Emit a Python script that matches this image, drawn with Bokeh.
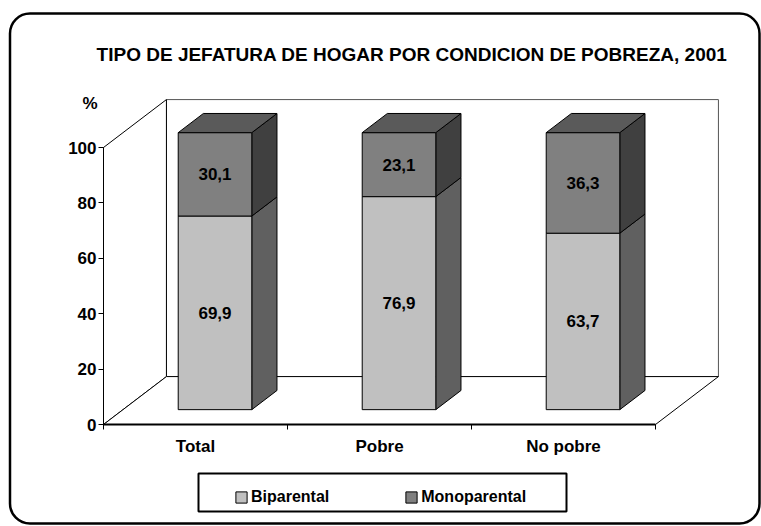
from bokeh.plotting import figure
from bokeh.models import Range1d, LinearAxis, FixedTicker, Legend, LegendItem, BoxAnnotation
from bokeh.core.properties import value
from bokeh.embed import file_html
from bokeh.resources import INLINE

# --- data -------------------------------------------------------------
categories = ["Total", "Pobre", "No pobre"]
biparental = [69.9, 76.9, 63.7]
monoparental = [30.1, 23.1, 36.3]
y_ticks = [0, 20, 40, 60, 80, 100]
title_text = "TIPO DE JEFATURA DE HOGAR POR CONDICION DE POBREZA, 2001"

# --- 3D box geometry (data units: x = category slots, y = percent) ----
DX, DY = 0.342, 17.3          # full depth of the floor / side walls
F0, F1 = 0.31, 0.71           # front / back depth fraction of each bar
BAR_W = 0.40
bdx, bdy = (F1 - F0) * DX, (F1 - F0) * DY
fdx, fdy = F0 * DX, F0 * DY

FONT = "'Liberation Sans', Arial, sans-serif"

# canvas maps 103px -> x=0, 184px per category; 424px -> y=0, 2.77px per percent
p = figure(width=761, height=526, output_backend="svg", toolbar_location=None,
           x_axis_type=None, y_axis_type=None,
           x_range=Range1d(-103 / 184, 658 / 184),
           y_range=Range1d(-102 / 2.77, 424 / 2.77),
           min_border=0)
p.outline_line_color = None
p.background_fill_color = "white"
p.border_fill_color = "white"

n = len(categories)

# walls and floor
p.quad(left=[DX], right=[n + DX], bottom=[DY], top=[100 + DY],
       fill_color="white", line_color="#555555", line_width=1)
p.patch([0, DX, DX, 0], [0, DY, 100 + DY, 100],
        fill_color="white", line_color="black", line_width=1)
p.patch([0, n, n + DX, DX], [0, 0, DY, DY],
        fill_color="white", line_color="black", line_width=1)

# stacked bars
series = [
    ("Biparental", biparental, "#C0C0C0", "#606060"),
    ("Monoparental", monoparental, "#808080", "#404040"),
]
base = [0.0] * n
front_renderers = []
for si, (name, vals, front_c, side_c) in enumerate(series):
    lefts, rights, bottoms, tops = [], [], [], []
    side_xs, side_ys = [], []
    for i, v in enumerate(vals):
        c = i + 0.5
        L = c - BAR_W / 2 + fdx
        R = c + BAR_W / 2 + fdx
        b = base[i] + fdy
        t = base[i] + v + fdy
        lefts.append(L); rights.append(R); bottoms.append(b); tops.append(t)
        side_xs.append([R, R + bdx, R + bdx, R])
        side_ys.append([b, b + bdy, t + bdy, t])
    p.patches(side_xs, side_ys, fill_color=side_c, line_color="black", line_width=1)
    fr = p.quad(left=lefts, right=rights, bottom=bottoms, top=tops,
                fill_color=front_c, line_color="black", line_width=1)
    front_renderers.append(fr)
    if si == len(series) - 1:
        top_xs = [[L, R, R + bdx, L + bdx] for L, R in zip(lefts, rights)]
        top_ys = [[t, t, t + bdy, t + bdy] for t in tops]
        p.patches(top_xs, top_ys, fill_color="#5A5A5A", line_color="black", line_width=1)
    # value labels centred on each front face
    p.text(x=[(L + R) / 2 for L, R in zip(lefts, rights)],
           y=[(b + t) / 2 for b, t in zip(bottoms, tops)],
           text=[f"{v:.1f}".replace(".", ",") for v in vals],
           text_align="center", text_baseline="middle",
           text_font=value(FONT), text_font_style="bold",
           text_font_size="17px", text_color="black")
    base = [base[i] + vals[i] for i in range(n)]

# axes
yax = LinearAxis(fixed_location=0, bounds=(0, 100),
                 ticker=FixedTicker(ticks=y_ticks, minor_ticks=[]))
yax.axis_line_color = "black"
yax.axis_line_width = 1
yax.major_tick_out = 5
yax.major_tick_in = 0
yax.minor_tick_out = 0
yax.major_label_standoff = 2
yax.major_label_text_font = FONT
yax.major_label_text_font_style = "bold"
yax.major_label_text_font_size = "17px"
yax.major_label_text_color = "black"
p.add_layout(yax, "left")

xax = LinearAxis(fixed_location=0, bounds=(0, n),
                 ticker=FixedTicker(ticks=[i + 0.5 for i in range(n)],
                                    minor_ticks=list(range(n + 1))))
xax.major_label_overrides = {i + 0.5: c for i, c in enumerate(categories)}
xax.axis_line_color = "black"
xax.axis_line_width = 2
xax.major_tick_out = 0
xax.major_tick_in = 0
xax.minor_tick_out = 5
xax.minor_tick_in = 0
xax.major_label_standoff = 7
xax.major_label_text_font = FONT
xax.major_label_text_font_style = "bold"
xax.major_label_text_font_size = "17px"
xax.major_label_text_color = "black"
p.add_layout(xax, "below")

# title and unit label
p.text(x=[1.677], y=[133.4], text=[title_text], text_align="center",
       text_baseline="middle", text_font=value(FONT), text_font_style="bold",
       text_font_size="19px", text_color="black")
p.text(x=[-0.073], y=[116.0], text=["%"], text_align="center",
       text_baseline="middle", text_font=value(FONT), text_font_style="bold",
       text_font_size="17px", text_color="black")

# legend frame and legend
p.add_layout(BoxAnnotation(left=95 / 184, right=463 / 184,
                           top=(424 - 473) / 2.77, bottom=(424 - 511) / 2.77,
                           fill_color=None, line_color="black", line_alpha=1,
                           line_width=2))
legend = Legend(items=[LegendItem(label=s[0], renderers=[r])
                       for s, r in zip(series, front_renderers)],
                orientation="horizontal", location=(234, 20),
                padding=4, spacing=75, margin=0,
                glyph_width=14, glyph_height=14, label_standoff=3,
                label_text_font=FONT, label_text_font_style="bold",
                label_text_font_size="16px", label_text_color="black",
                border_line_color=None, background_fill_alpha=0)
p.add_layout(legend)

# rounded outer frame
p.add_layout(BoxAnnotation(left=-93.5 / 184, right=656 / 184,
                           top=(424 - 13) / 2.77, bottom=(424 - 523) / 2.77,
                           fill_color=None, line_color="black", line_alpha=1,
                           line_width=2.5, border_radius=20))

open("out.html", "w").write(file_html(p, INLINE))
